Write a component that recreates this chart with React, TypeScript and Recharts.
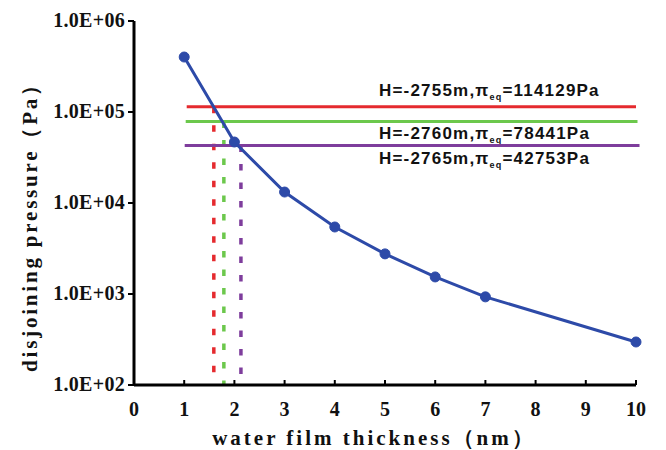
import React from "react";
import {
  LineChart,
  Line,
  XAxis,
  YAxis,
  ReferenceLine,
  Label,
} from "recharts";

// ---- data ----
const thickness = [1, 2, 3, 4, 5, 6, 7, 10];
const pressure = [402000, 46800, 13200, 5450, 2760, 1540, 930, 297];

const xTicks = [0, 1, 2, 3, 4, 5, 6, 7, 8, 9, 10];
const yTicks = [100, 1000, 10000, 100000, 1000000];
const yTickLabels = ["1.0E+02", "1.0E+03", "1.0E+04", "1.0E+05", "1.0E+06"];

const levelNames = ["H=-2755m", "H=-2760m", "H=-2765m"];
const levelPressures = [114129, 78441, 42753];
const levelStartX = [1.05, 1.03, 1.01];
const levelEndX = [10, 10.03, 10.07];
const levelCrossX = [1.59, 1.79, 2.13];
const levelColors = ["#e52a2e", "#6cc84c", "#7e3d9c"];
const labelOffsets = [-11, 17, 18];

const data = thickness.map((x, i) => ({ x, y: pressure[i] }));

const serif = "'Liberation Serif', 'Times New Roman', serif";
const sans = "'Liberation Sans', Arial, sans-serif";

const makeLevelLabel = (i: number) => (props: any) => {
  const vb = props && props.viewBox ? props.viewBox : { x: 0, y: 0 };
  const y = (vb.y ?? 0) + labelOffsets[i];
  return (
    <text
      x={371}
      y={y}
      fontFamily={sans}
      fontWeight="bold"
      fontSize={17}
      letterSpacing={1.2}
      fill="#111"
    >
      <tspan>{levelNames[i] + ",π"}</tspan>
      <tspan fontSize={9} dy={4}>
        eq
      </tspan>
      <tspan dy={-4}>{"=" + levelPressures[i] + "Pa"}</tspan>
    </text>
  );
};

const makeXTickLabel = (v: number) => (props: any) => {
  const vb = props && props.viewBox ? props.viewBox : { x: 0, y: 0, height: 0 };
  return (
    <text
      x={vb.x}
      y={(vb.y ?? 0) + (vb.height ?? 0) + 31}
      textAnchor="middle"
      fontFamily={serif}
      fontWeight="bold"
      fontSize={20}
      fill="#111"
    >
      {String(v)}
    </text>
  );
};

const makeYTickLabel = (i: number) => (props: any) => {
  const vb = props && props.viewBox ? props.viewBox : { x: 0, y: 0 };
  return (
    <text
      x={(vb.x ?? 0) - 9}
      y={(vb.y ?? 0) + 6}
      textAnchor="end"
      fontFamily={serif}
      fontWeight="bold"
      fontSize={20}
      letterSpacing={0.3}
      fill="#111"
    >
      {yTickLabels[i]}
    </text>
  );
};

const emptyTick = () => <g />;

export default function App() {
  return (
    <LineChart
      width={658}
      height={442}
      data={data}
      margin={{ top: 13, right: 30, left: 0, bottom: 0 }}
    >
      <XAxis
        type="number"
        dataKey="x"
        domain={[0, 10]}
        ticks={xTicks}
        interval={0}
        height={65}
        axisLine={{ stroke: "#000", strokeWidth: 3 }}
        tickLine={{ stroke: "#000", strokeWidth: 2 }}
        tickSize={-5}
        tick={emptyTick}
      >
        <Label
          content={() => (
            <text
              x={366}
              y={437}
              textAnchor="middle"
              fontFamily={serif}
              fontWeight="bold"
              fontSize={21}
              letterSpacing={3}
              fill="#111"
            >
              water film thickness（nm）
            </text>
          )}
        />
      </XAxis>
      <YAxis
        type="number"
        scale="log"
        domain={[100, 1000000]}
        ticks={yTicks}
        interval={0}
        allowDataOverflow
        width={126}
        axisLine={{ stroke: "#000", strokeWidth: 3 }}
        tickLine={{ stroke: "#000", strokeWidth: 2 }}
        tickSize={6}
        tick={emptyTick}
      >
        <Label
          content={() => (
            <text
              x={0}
              y={0}
              transform="translate(29,214) rotate(-90)"
              textAnchor="middle"
              fontFamily={serif}
              fontWeight="bold"
              fontSize={21}
              letterSpacing={2.8}
              fill="#111"
            >
              disjoining pressure（Pa）
            </text>
          )}
        />
      </YAxis>
      {xTicks.map((v) => (
        <ReferenceLine
          key={"xt" + v}
          x={v}
          stroke="none"
          ifOverflow="visible"
          label={makeXTickLabel(v)}
        />
      ))}
      {yTicks.map((v, i) => (
        <ReferenceLine
          key={"yt" + v}
          y={v}
          stroke="none"
          ifOverflow="visible"
          label={makeYTickLabel(i)}
        />
      ))}
      {levelPressures.map((p, i) => (
        <ReferenceLine
          key={"v" + i}
          segment={[
            { x: levelCrossX[i], y: p },
            { x: levelCrossX[i], y: 100 },
          ]}
          stroke={levelColors[i]}
          strokeWidth={3.5}
          strokeDasharray="6.5 12"
          ifOverflow="visible"
        />
      ))}
      {levelPressures.map((p, i) => (
        <ReferenceLine
          key={"h" + i}
          segment={[
            { x: levelStartX[i], y: p },
            { x: levelEndX[i], y: p },
          ]}
          stroke={levelColors[i]}
          strokeWidth={3}
          ifOverflow="visible"
          label={makeLevelLabel(i)}
        />
      ))}
      <Line
        type="linear"
        dataKey="y"
        stroke="#2d4aa8"
        strokeWidth={3}
        dot={{ r: 5, fill: "#2d4aa8", stroke: "#2d4aa8", strokeWidth: 1 }}
        isAnimationActive={false}
      />
    </LineChart>
  );
}
